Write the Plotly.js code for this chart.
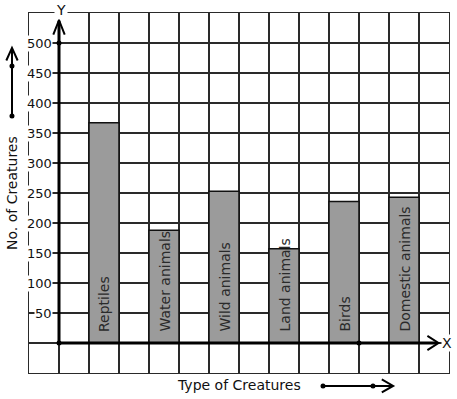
<!DOCTYPE html>
<html>
<head>
<meta charset="utf-8">
<script src="https://cdn.plot.ly/plotly-3.0.1.min.js"></script>
<style>
html,body{margin:0;padding:0;background:#fff;}
#chart{width:457px;height:399px;}
</style>
</head>
<body>
<div id="chart"></div>
<script>
// ---- data ----
var categories = ["Reptiles", "Water animals", "Wild animals", "Land animals", "Birds", "Domestic animals"];
var counts = [367, 188, 253, 157, 236, 243];
var yTickValues = [50, 100, 150, 200, 250, 300, 350, 400, 450, 500];
var yTickLabels = ["50", "100", "150", "200", "250", "300", "350", "400", "450", "500"];
var xTitle = "Type of Creatures";
var yTitle = "No. of Creatures";

// bars sit in every other grid column
var positions = categories.map(function (c, i) { return 1.5 + 2 * i; });

var FONT = "DejaVu Sans, Verdana, sans-serif";
var GRID = "#2a2a2a";

var trace = {
  type: "bar",
  x: positions,
  y: counts,
  width: 1,
  marker: { color: "#9b9b9b", line: { color: "#111", width: 1.5 } },
  hoverinfo: "skip"
};

var annotations = [];
// y tick labels inside the grid, left of the Y axis
yTickValues.forEach(function (v, i) {
  annotations.push({
    x: 0, y: v, xref: "x", yref: "y", text: yTickLabels[i], showarrow: false,
    xanchor: "right", yanchor: "middle", xshift: -6, bgcolor: "#fff", borderpad: 0,
    font: { family: FONT, size: 13, color: "#111" }
  });
});
// category labels written vertically inside the bars
categories.forEach(function (c, i) {
  annotations.push({
    x: positions[i], y: 0, xref: "x", yref: "y", text: c, showarrow: false,
    textangle: -90, xanchor: "center", yanchor: "bottom", yshift: 9,
    font: { family: FONT, size: 14, color: "#2a2a2a" }
  });
});
// axis letters
annotations.push({ x: 0, y: 1.008, xref: "x", yref: "paper", text: "Y", showarrow: false,
  xanchor: "center", yanchor: "middle", xshift: 2, bgcolor: "#fff", borderpad: 1,
  font: { family: FONT, size: 14, color: "#111" } });
annotations.push({ x: 1.0, y: 0, xref: "paper", yref: "y", text: "X", showarrow: false,
  xanchor: "center", yanchor: "middle", xshift: -2, bgcolor: "#fff", borderpad: 0,
  font: { family: FONT, size: 14, color: "#111" } });
// titles
annotations.push({ x: 0.499, y: -0.033, xref: "paper", yref: "paper", text: xTitle, showarrow: false,
  xanchor: "center", yanchor: "middle", font: { family: FONT, size: 14, color: "#111" } });
annotations.push({ x: -0.0405, y: 0.5, xref: "paper", yref: "paper", text: yTitle, showarrow: false,
  textangle: -90, xanchor: "center", yanchor: "middle", font: { family: FONT, size: 14, color: "#111" } });

function dot(xref, yref, x, y) {
  return { type: "circle", xref: xref, yref: yref, xsizemode: "pixel", ysizemode: "pixel",
    xanchor: x, yanchor: y, x0: -2.5, x1: 2.5, y0: -2.5, y1: 2.5,
    fillcolor: "#000", line: { color: "#000", width: 0 }, layer: "above" };
}
function seg(xref, yref, path, w) {
  return { type: "path", xref: xref, yref: yref, path: path,
    line: { color: "#000", width: w }, layer: "above" };
}

var shapes = [
  // Y axis with arrow
  seg("x", "y", "M 0,0 L 0,537", 3),
  seg("x", "y", "M -0.19,514 L 0,538 L 0.19,514", 2),
  // X axis with arrow
  seg("x", "y", "M 0,0 L 12.6,0", 3),
  seg("x", "y", "M 12.28,12 L 12.65,0 L 12.28,-12", 2),
  dot("x", "y", 0, 0),
  dot("x", "y", 0, 500),
  dot("x", "y", 10, 0),
  // arrow beside the Y title
  seg("paper", "paper", "M -0.0405,0.714 L -0.0405,0.90", 2),
  seg("paper", "paper", "M -0.054,0.868 L -0.0405,0.903 L -0.027,0.868", 2),
  dot("paper", "paper", -0.0405, 0.714),
  dot("paper", "paper", -0.0405, 0.853),
  // arrow beside the X title
  seg("paper", "paper", "M 0.70,-0.036 L 0.866,-0.036", 2),
  seg("paper", "paper", "M 0.84,-0.018 L 0.867,-0.036 L 0.84,-0.054", 2),
  dot("paper", "paper", 0.70, -0.036),
  dot("paper", "paper", 0.819, -0.036)
];

var layout = {
  width: 457, height: 399,
  margin: { l: 29, r: 8, t: 13, b: 26, pad: 0 },
  paper_bgcolor: "#fff", plot_bgcolor: "#fff",
  showlegend: false,
  xaxis: {
    range: [-1, 13], tickmode: "linear", tick0: 0, dtick: 1,
    showgrid: true, gridcolor: GRID, gridwidth: 1.3,
    showticklabels: false, ticks: "", zeroline: false,
    showline: true, mirror: true, linecolor: GRID, linewidth: 1.3, fixedrange: true
  },
  yaxis: {
    range: [-50, 550], tickmode: "linear", tick0: 0, dtick: 50,
    showgrid: true, gridcolor: GRID, gridwidth: 1.3,
    showticklabels: false, ticks: "", zeroline: false,
    showline: true, mirror: true, linecolor: GRID, linewidth: 1.3, fixedrange: true
  },
  annotations: annotations,
  shapes: shapes
};

Plotly.newPlot("chart", [trace], layout, { displayModeBar: false, staticPlot: true });
</script>
</body>
</html>
